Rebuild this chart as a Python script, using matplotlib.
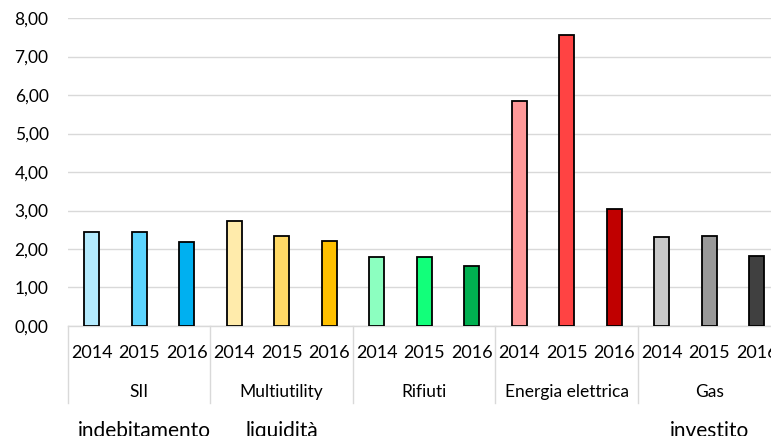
#!/usr/bin/env python
# -*- coding: utf-8 -*-

'''
Bar chart by sector and year, Excel style category axis
'''

import numpy as np
import matplotlib
matplotlib.use("Agg")
import matplotlib.pyplot as plt
from matplotlib.transforms import blended_transform_factory
from matplotlib.ticker import FuncFormatter

sectors = ["SII", "Multiutility", "Rifiuti", "Energia elettrica", "Gas"]
years = ["2014", "2015", "2016"]
values = [
    [2.44, 2.44, 2.18],
    [2.73, 2.35, 2.22],
    [1.78, 1.78, 1.57],
    [5.84, 7.56, 3.03],
    [2.30, 2.35, 1.83],
]
colors = [
    ["#B3EAFD", "#5CD4FE", "#00B0F0"],
    ["#FFEBAB", "#FFD966", "#FFC000"],
    ["#8CFFC0", "#12FF7A", "#00B050"],
    ["#FF9999", "#FF4343", "#C00000"],
    ["#C8C8C8", "#999999", "#404040"],
]
extra_labels = ["indebitamento", "liquidità", "investito"]
extra_pos = [1.1, 4, 13]

plt.rcParams['font.family'] = ['Lato', 'DejaVu Sans']

fig = plt.figure(figsize=(7.71, 4.36), dpi=100)
ax = fig.add_axes([0.0882, 0.2523, 0.9241, 0.7064])

flatValues = [v for row in values for v in row]
flatColors = [c for row in colors for c in row]
x = np.arange(len(flatValues))
ax.bar(x, flatValues, width=0.31, color=flatColors, edgecolor="black",
       linewidth=1.3, zorder=3)

ax.set_xlim(-0.5, len(flatValues) - 0.5)
ax.set_ylim(0, 8)
ax.set_yticks(np.arange(0, 9, 1))
ax.yaxis.set_major_formatter(FuncFormatter(lambda v, p: ("%.2f" % v).replace(".", ",")))
ax.grid(axis="y", color="#D9D9D9", linewidth=1.0, zorder=0)
ax.tick_params(axis="y", length=0, pad=14, labelsize=12.5, colors="black")
ax.set_xticks([])
for side in ["top", "right", "left"]:
    ax.spines[side].set_visible(False)
ax.spines["bottom"].set_color("#D9D9D9")
ax.spines["bottom"].set_linewidth(1.0)

trans = blended_transform_factory(ax.transData, ax.transAxes)
for i, sector in enumerate(sectors):
    for j, year in enumerate(years):
        ax.text(i * 3 + j, -0.088, year, transform=trans, ha="center",
                va="center", fontsize=13)
    ax.text(i * 3 + 1, -0.214, sector, transform=trans, ha="center",
            va="center", fontsize=12.5)
for k in range(len(sectors) + 1):
    ax.plot([k * 3 - 0.5, k * 3 - 0.5], [0, -0.25], transform=trans,
            color="#D9D9D9", linewidth=1.0, clip_on=False)

for lab, pos in zip(extra_labels, extra_pos):
    ax.text(pos, -0.34, lab, transform=trans, ha="center", va="center",
            fontsize=15)

fig.savefig("out.png", dpi=100)
